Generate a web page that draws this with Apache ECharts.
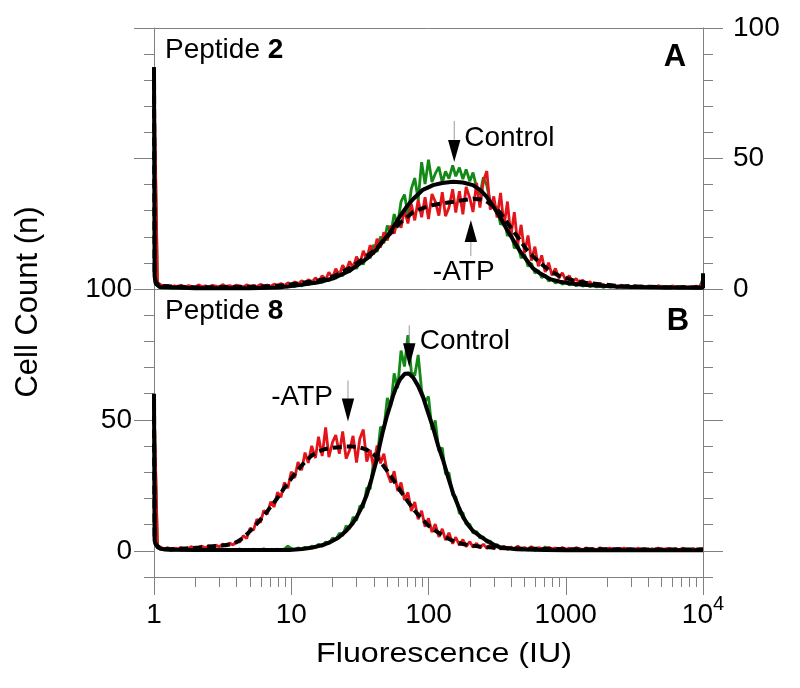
<!DOCTYPE html>
<html><head><meta charset="utf-8">
<script src="https://cdn.jsdelivr.net/npm/echarts@6/dist/echarts.min.js"></script>
<style>html,body{margin:0;padding:0;background:#fff}#c{width:800px;height:688px}</style>
</head><body><div id="c"></div>
<script>
// ---------- DATA ----------
// histogram channels (fluorescence, IU), 40 per decade
const channels = [
  1, 1.06, 1.12, 1.19, 1.26, 1.33, 1.41, 1.5, 1.58, 1.68,
  1.78, 1.88, 2, 2.11, 2.24, 2.37, 2.51, 2.66, 2.82, 2.99,
  3.16, 3.35, 3.55, 3.76, 3.98, 4.22, 4.47, 4.73, 5.01, 5.31,
  5.62, 5.96, 6.31, 6.68, 7.08, 7.5, 7.94, 8.41, 8.91, 9.44,
  10, 10.6, 11.2, 11.9, 12.6, 13.3, 14.1, 15, 15.8, 16.8,
  17.8, 18.8, 20, 21.1, 22.4, 23.7, 25.1, 26.6, 28.2, 29.9,
  31.6, 33.5, 35.5, 37.6, 39.8, 42.2, 44.7, 47.3, 50.1, 53.1,
  56.2, 59.6, 63.1, 66.8, 70.8, 75, 79.4, 84.1, 89.1, 94.4,
  100, 106, 112, 119, 126, 133, 141, 150, 158, 168,
  178, 188, 200, 211, 224, 237, 251, 266, 282, 299,
  316, 335, 355, 376, 398, 422, 447, 473, 501, 531,
  562, 596, 631, 668, 708, 750, 794, 841, 891, 944,
  1000, 1060, 1120, 1190, 1260, 1330, 1410, 1500, 1580, 1680,
  1780, 1880, 2000, 2110, 2240, 2370, 2510, 2660, 2820, 2990,
  3160, 3350, 3550, 3760, 3980, 4220, 4470, 4730, 5010, 5310,
  5620, 5960, 6310, 6680, 7080, 7500, 7940, 8410, 8910, 9440,
  10000
];
// Panel A (Peptide 2) raw counts
const controlA = [
  78, 1.2, 0.5, 0.3, 0.6, 0.2, 0.4, 0.7, 0.3, 0.5,
  0.2, 0.6, 0.4, 0.3, 0.8, 0.2, 0.5, 0.4, 0.7, 0.3,
  0.5, 0.6, 0.2, 0.4, 0.8, 0.3, 0.5, 0.6, 0.3, 0.7,
  0.4, 0.5, 0.9, 0.3, 0.6, 0.5, 0.9, 0.4, 1.2, 0.7,
  1.5, 0.9, 1.8, 1.2, 2.4, 1.6, 2.8, 2.1, 3.3, 2.5,
  3.9, 3.1, 5.2, 4.0, 6.3, 5.0, 7.6, 6.4, 9.5, 7.8,
  11.2, 9.4, 13.5, 11.8, 16.9, 14.2, 20.1, 17.5, 24.3, 21,
  28.7, 24.8, 33.5, 36.2, 28.6, 38.4, 42.5, 34.1, 48.6, 40.2,
  49.5, 41, 44.2, 46.8, 40.8, 45.1, 42.3, 47.4, 43.2, 46.5,
  42.1, 45.8, 41.3, 44.6, 38.9, 36.1, 42.8, 39.7, 33.2, 30.9,
  31.5, 24.6, 27.1, 20.3, 22.4, 15.6, 17.3, 11.8, 13.4, 8.7,
  9.9, 6.1, 7.2, 4.3, 5.4, 3.0, 3.9, 2.2, 3.2, 1.8,
  2.7, 1.5, 2.3, 1.2, 2.0, 1.1, 1.7, 0.9, 1.5, 0.8,
  1.3, 0.6, 1.1, 0.7, 1.2, 0.5, 1.0, 0.8, 1.2, 0.4,
  0.9, 1.1, 0.5, 0.8, 1.0, 0.4, 0.9, 0.6, 1.1, 0.3,
  0.8, 0.7, 1.0, 0.4, 0.7, 0.9, 0.3, 0.6, 0.8, 0.5,
  4
];
const noAtpA = [
  82, 2.5, 1.6, 1.0, 1.4, 0.7, 1.2, 0.9, 1.5, 0.6,
  1.3, 1.0, 0.8, 1.6, 0.9, 1.2, 0.7, 1.4, 1.1, 0.8,
  1.7, 1.0, 1.3, 0.9, 1.5, 1.2, 0.8, 1.6, 1.1, 1.4,
  0.9, 1.8, 1.2, 1.5, 1.0, 1.9, 1.4, 2.1, 1.3, 2.4,
  1.6, 2.7, 1.9, 3.2, 2.2, 3.6, 2.5, 4.3, 2.9, 5.1,
  3.6, 6.4, 4.2, 7.8, 5.3, 9.1, 6.8, 10.6, 8.1, 12.4,
  9.7, 14.6, 11.5, 16.8, 13.2, 19.2, 15.9, 21.7, 18.6, 24.3,
  21.2, 26.8, 23.5, 30.4, 25.1, 32.6, 26.3, 34.1, 27.5, 35.2,
  26.8, 36.4, 33.5, 28.1, 37.1, 27.9, 31.2, 38.2, 29.3, 37.5,
  28.6, 39.1, 34.8, 29.5, 40.6, 31.2, 41.3, 45.2, 30.4, 35.5,
  27.4, 36.8, 24.1, 33.5, 20.2, 29.4, 17.1, 24.6, 13.8, 20.5,
  10.9, 16.2, 8.7, 12.9, 6.5, 10.1, 5.2, 7.9, 4.1, 6.2,
  3.3, 5.1, 2.6, 4.0, 2.2, 3.4, 1.6, 2.8, 1.3, 2.2,
  1.0, 1.8, 0.8, 1.6, 1.1, 0.7, 1.5, 0.9, 1.3, 0.6,
  1.4, 0.8, 1.2, 0.5, 1.1, 0.9, 0.6, 1.3, 0.7, 1.0,
  0.5, 1.2, 0.8, 0.4, 1.0, 0.7, 0.9, 0.5, 1.1, 0.6,
  3
];
// Panel B (Peptide 8) raw counts
const controlB = [
  55, 1.2, 0.6, 0.3, 0.5, 0.2, 0.4, 0.6, 0.2, 0.5,
  0.3, 0.7, 0.2, 0.4, 0.6, 0.3, 0.5, 0.2, 0.7, 0.4,
  0.3, 0.6, 0.2, 0.5, 0.4, 0.7, 0.3, 0.5, 0.2, 0.6,
  0.4, 0.3, 0.8, 0.2, 0.5, 0.4, 0.6, 0.3, 0.7, 1.8,
  0.9, 0.4, 1.1, 0.6, 1.4, 0.8, 1.8, 1.1, 2.5, 1.7,
  3.4, 2.7, 4.9, 4.1, 6.8, 5.7, 9.6, 8.4, 12.9, 11.6,
  17.2, 16.4, 24.1, 23.6, 34.2, 35.1, 47.3, 46.5, 58.4, 55.2,
  67.8, 62.1, 76.5, 70.4, 82.4, 68.3, 66.9, 74.8, 61.2, 57.1,
  58.9, 46.2, 49.8, 38.1, 39.4, 29.3, 29.8, 21.4, 20.6, 14.2,
  14.6, 10.1, 10.2, 6.8, 7.4, 4.9, 5.3, 3.2, 3.7, 2.1,
  2.4, 1.2, 1.6, 0.7, 1.1, 0.5, 1.4, 0.4, 0.7, 0.3,
  0.9, 0.2, 0.6, 0.4, 1.5, 0.3, 0.5, 0.2, 0.7, 0.4,
  0.3, 0.6, 0.2, 0.5, 0.4, 0.3, 0.6, 0.2, 0.4, 0.5,
  0.3, 0.7, 0.2, 0.4, 0.3, 0.5, 0.2, 0.6, 0.3, 0.4,
  0.2, 0.5, 0.3, 0.6, 0.2, 0.4, 0.3, 0.5, 0.2, 0.4,
  0.6, 0.3, 0.2, 0.5, 0.3, 0.4, 0.2, 0.5, 0.3, 0.4,
  0.5
];
const noAtpB = [
  57, 2.0, 1.4, 0.7, 1.2, 0.5, 1.0, 0.8, 1.3, 0.6,
  1.1, 1.6, 0.9, 1.4, 1.8, 1.1, 2.0, 1.3, 2.2, 1.5,
  2.6, 1.8, 3.0, 2.2, 3.7, 3.3, 5.8, 4.7, 8.6, 7.9,
  12.1, 10.8, 15.4, 13.9, 18.7, 16.8, 22.3, 20.5, 26.1, 23.9,
  30.2, 27.8, 33.9, 30.8, 37.5, 33.6, 40.1, 35.4, 43.6, 36.2,
  47.1, 35.8, 41.5, 44.2, 37.1, 45.6, 35.2, 38.4, 43.9, 33.7,
  42.8, 46.3, 34.1, 38.5, 31.9, 40.2, 33.4, 37.1, 29.8, 26.1,
  30.4, 22.8, 26.1, 19.4, 22.3, 15.2, 18.6, 12.1, 15.3, 9.2,
  12.4, 7.1, 10.2, 5.3, 8.4, 4.1, 6.9, 2.7, 5.2, 2.1,
  4.3, 1.6, 3.5, 1.3, 2.9, 1.0, 2.6, 0.9, 2.3, 0.8,
  1.9, 0.6, 1.7, 0.8, 1.5, 0.5, 1.8, 0.7, 1.3, 0.4,
  1.6, 0.6, 1.2, 0.9, 0.4, 1.4, 0.7, 1.1, 0.5, 1.3,
  0.6, 1.0, 0.4, 1.2, 0.8, 0.5, 1.1, 0.6, 0.9, 0.4,
  1.2, 0.5, 0.8, 1.0, 0.4, 0.9, 0.6, 1.1, 0.5, 0.8,
  0.4, 1.0, 0.6, 0.9, 0.3, 0.8, 0.5, 1.1, 0.4, 0.7,
  0.9, 0.5, 0.8, 0.3, 1.0, 0.6, 0.4, 0.9, 0.5, 0.7,
  0.8
];
// fitted curves [fluorescence, count]
const fitControlA = [[1,85],[1.01,5],[1.03,2],[1.1,0.8],[2,0.3],[5,0.3],[8,0.6],[10,1.1],[11.5,1.5],[15.8,2.6],[20,4],[26.7,7],[35.3,11.5],[41.7,15],[46.7,18.5],[52.2,21.5],[61.7,27.7],[70,31.8],[77.3,34.5],[91,38],[108,39.8],[126,40.6],[151,41.1],[178,40.8],[211,39.8],[240,37.8],[265,35.4],[295,31.8],[331,27.7],[371,23],[414,18.8],[457,15],[519,11.1],[575,8],[649,6],[767,3.8],[908,2.8],[1122,2],[1419,1.5],[2512,0.9],[5012,0.6],[9550,0.5],[10000,0.5],[10000,6]];
const fitNoAtpA = [[1,85],[1.01,5],[1.03,2.5],[1.1,1.2],[2,0.6],[5,0.8],[8,1.2],[10,1.8],[11.5,2.2],[15.8,3.3],[20,4.7],[26.7,8],[35.3,12.4],[41.7,15.5],[46.7,18.5],[52.2,21],[61.7,25.2],[70,27.6],[77.3,29.5],[91,31],[108,32.2],[126,32.8],[151,33.4],[178,34],[211,34.6],[240,34.3],[265,33.6],[295,31.8],[331,29.4],[371,25.8],[414,22.2],[457,19.2],[519,15.1],[575,12.6],[649,10],[767,6.9],[908,4.9],[1122,3.4],[1419,2.3],[2512,1.1],[5012,0.7],[10000,0.6]];
const fitControlB = [[1,60],[1.01,4],[1.03,2.5],[1.06,1.5],[1.12,0.8],[1.3,0.4],[2,0.3],[4.2,0.3],[9.7,0.3],[12,0.7],[14.4,1.3],[17,2.2],[19,3.2],[22,5],[25.2,7.7],[28,10.5],[29.9,12.8],[32.5,16.5],[35.3,21],[38.5,27.5],[41.8,34.5],[44,40],[46.7,46],[49.5,51],[52.2,55],[55,59],[58.5,62.8],[62,65.5],[67.1,67.6],[72,67.7],[77.3,66.2],[84,63],[91.4,58.6],[99,53],[108,47],[117,40.5],[128,34.5],[139,28],[151,22],[165,17],[179,12.8],[195,9.8],[211,7.6],[237,5.6],[265,3.9],[300,2.3],[331,1.4],[437,0.6],[700,0.3],[1000,0.2],[10000,0.2]];
const fitNoAtpB = [[1,57],[1.01,4],[1.03,2.5],[1.1,1],[1.23,0.6],[1.6,0.8],[2.15,1.3],[2.8,1.8],[3.16,2],[3.55,2.4],[3.98,3.2],[4.47,5],[5.01,7.5],[5.62,10.4],[6.31,13.4],[7.08,16.8],[7.94,20.2],[8.91,24],[10,27.6],[11.2,31],[12.6,34],[14.1,36.4],[15.8,38],[17.8,38.9],[20,39.4],[22.4,39.6],[25.1,39.8],[28.2,39.8],[31.6,39.5],[35.5,38.6],[39.8,36.9],[44.7,34],[50.1,30.5],[56.2,26.6],[63.1,22.5],[70.8,18.8],[79.4,15.3],[89.1,12.2],[100,9.6],[112,7.7],[126,6],[141,4.5],[158,3.3],[178,2.6],[200,2.1],[251,1.5],[316,1.1],[398,0.9],[1000,0.6],[10000,0.5]];
// ticks
const xMajorTicks = [1, 10, 100, 1000, 10000];
const xMinorTicks = [2,3,4,5,6,7,8,9,20,30,40,50,60,70,80,90,200,300,400,500,600,700,800,900,2000,3000,4000,5000,6000,7000,8000,9000];
const yMajorTicks = [0, 50, 100];
const yMinorTicksA = [10,20,30,40,60,70,80,90];
const yMinorTicksB = [-10,10,20,30,40,60,70,80,90];
// arrow annotations (data coordinates of arrow tips)
const annotations = [
  {panel:0, text:'Control', x:154, y:48.7, dir:'down'},
  {panel:0, text:'-ATP', x:203.5, y:26.4, dir:'up'},
  {panel:1, text:'Control', x:72.4, y:70.1, dir:'down'},
  {panel:1, text:'-ATP', x:25.9, y:49.4, dir:'down'}
];

// ---------- LAYOUT / STYLE ----------
const annLayout = [
  {dx:10, dy:-24, align:'left', tri:22, stem:19},
  {dx:-38, dy:52, align:'left', tri:22, stem:14},
  {dx:10.5, dy:-26, align:'left', tri:24, stem:18},
  {dx:-15, dy:-24, align:'right', tri:23, stem:18}
];
const FONT = "'Liberation Sans', Arial, Helvetica, sans-serif";
const GRAY = '#808080';
const GREEN = '#138a17';
const RED = '#e3151a';

function pairs(xs, ys){ return xs.map((x,i)=>[x, ys[i]]); }

function logAxis(gridIndex, position, showLine, tickVals, tickLen, withLabels){
  const ax = {type:'log', logBase:10, gridIndex, position, min:1, max:10000,
    axisLine:{show:showLine, onZero:false, lineStyle:{color:GRAY, width:1}},
    axisTick: tickVals ? {show:true, customValues:tickVals, length:tickLen, inside:false, lineStyle:{color:GRAY, width:1}} : {show:false},
    axisLabel:{show:false},
    splitLine:{show:false}, minorTick:{show:false}, minorSplitLine:{show:false}};
  if (withLabels) {
    ax.axisLabel = {show:true, customValues:xMajorTicks, margin:17,
      formatter: v => { const r = Math.round(v); return r === 10000 ? '{n|10}{s|4}' : '{n|' + r + '}'; },
      rich:{ n:{fontSize:28, fontFamily:FONT, color:'#000', lineHeight:42, verticalAlign:'middle'},
             s:{fontSize:20, fontFamily:FONT, color:'#000', lineHeight:20, verticalAlign:'top'} } };
  }
  return ax;
}
function valAxis(gridIndex, position, min, showLine, tickVals, tickLen, labelVals, margin){
  return {type:'value', gridIndex, position, min, max:100,
    axisLine:{show:showLine, onZero:false, lineStyle:{color:GRAY, width:1}},
    axisTick:{show:true, customValues:tickVals, length:tickLen, inside:false, lineStyle:{color:GRAY, width:1}},
    axisLabel: labelVals ? {show:true, customValues:labelVals, margin, fontSize:28, fontFamily:FONT, color:'#000'} : {show:false},
    splitLine:{show:false}, minorTick:{show:false}};
}
function line(data, xi, yi, color, width, type, z){
  return {type:'line', data, xAxisIndex:xi, yAxisIndex:yi, showSymbol:false, symbol:'none',
    clip:false, silent:true, animation:false, z,
    lineStyle:{color, width, type}};
}

const chart = echarts.init(document.getElementById('c'), null, {renderer:'canvas'});
const option = {
  animation:false,
  backgroundColor:'#fff',
  grid:[
    {left:154, top:28, width:549, height:261, containLabel:false, outerBoundsMode:'none'},
    {left:154, top:289, width:549, height:288, containLabel:false, outerBoundsMode:'none'}
  ],
  xAxis:[
    logAxis(0, 'bottom', true, null, 0, false),
    logAxis(0, 'top', true, null, 0, false),
    logAxis(1, 'bottom', true, xMajorTicks, 18, true),
    logAxis(1, 'bottom', false, xMinorTicks, 10, false)
  ],
  yAxis:[
    valAxis(0, 'right', 0, true, yMajorTicks, 20, yMajorTicks, 30),
    valAxis(0, 'right', 0, false, yMinorTicksA, 10, null),
    valAxis(0, 'left', 0, true, yMajorTicks, 20, null),
    valAxis(0, 'left', 0, false, yMinorTicksA, 10, null),
    valAxis(1, 'left', -10, true, yMajorTicks, 20, yMajorTicks, 22),
    valAxis(1, 'left', -10, false, yMinorTicksB, 10, null),
    valAxis(1, 'right', -10, true, yMajorTicks, 20, null),
    valAxis(1, 'right', -10, false, yMinorTicksB, 10, null)
  ],
  series:[
    line(pairs(channels, controlA), 0, 0, GREEN, 2.8, 'solid', 2),
    line(pairs(channels, noAtpA), 0, 0, RED, 2.8, 'solid', 3),
    line(fitControlA, 0, 0, '#000', 4, 'solid', 4),
    line(fitNoAtpA, 0, 0, '#000', 4, [9,5], 5),
    line(pairs(channels, controlB), 2, 4, GREEN, 2.8, 'solid', 2),
    line(pairs(channels, noAtpB), 2, 4, RED, 2.8, 'solid', 3),
    line(fitControlB, 2, 4, '#000', 4, 'solid', 4),
    line(fitNoAtpB, 2, 4, '#000', 4, [9,5], 5)
  ]
};
chart.setOption(option);

// ---------- annotations & titles ----------
const g = [];
const txt = (x, y, text, extra) => Object.assign({type:'text', x, y, z:10,
  style:Object.assign({text, fontSize:28, fontFamily:FONT, fill:'#000', align:'left', verticalAlign:'middle'}, extra || {})});
const yTitle = txt(28, 302, 'Cell Count (n)', {fontSize:31, align:'center'});
yTitle.rotation = Math.PI/2; g.push(yTitle);
const xTitle = txt(444, 654, 'Fluorescence (IU)', {align:'center'}); xTitle.scaleX = 1.15; g.push(xTitle);
const rich = {a:{fontSize:28, fontFamily:FONT, fill:'#000'}, b:{fontSize:28, fontFamily:FONT, fontWeight:'bold', fill:'#000'}};
g.push(txt(165, 50, '{a|Peptide }{b|2}', {rich}));
g.push(txt(165, 311, '{a|Peptide }{b|8}', {rich}));
g.push(txt(675, 57, 'A', {fontSize:31, fontWeight:'bold', align:'center'}));
g.push(txt(678, 321, 'B', {fontSize:31, fontWeight:'bold', align:'center'}));

annotations.forEach((a, i) => {
  const L = annLayout[i];
  const finder = a.panel === 0 ? {xAxisIndex:0, yAxisIndex:0} : {xAxisIndex:2, yAxisIndex:4};
  const p = chart.convertToPixel(finder, [a.x, a.y]);
  const s = a.dir === 'down' ? -1 : 1;
  const baseY = p[1] + s * L.tri;
  g.push({type:'line', z:10, shape:{x1:p[0], y1:baseY, x2:p[0], y2:baseY + s * L.stem}, style:{stroke:'#9a9a9a', lineWidth:1}});
  g.push({type:'polygon', z:10, shape:{points:[[p[0]-6.2, baseY],[p[0]+6.2, baseY],[p[0], p[1]]]}, style:{fill:'#000'}});
  g.push(txt(p[0] + L.dx, p[1] + L.dy, a.text, {align:L.align}));
});
chart.setOption({graphic:g});
</script>
</body></html>
